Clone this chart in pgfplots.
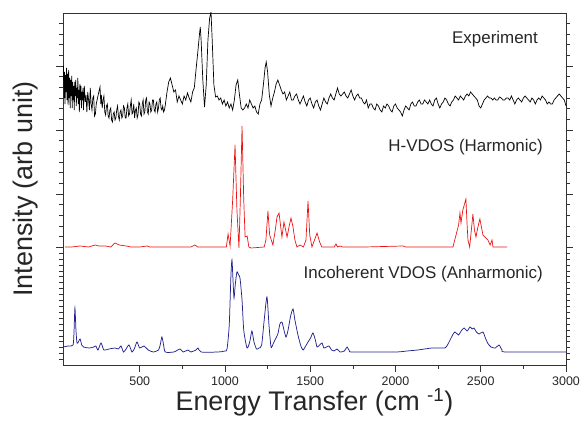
\documentclass[border=0pt]{standalone}
\usepackage{fontspec}
\setmainfont{Liberation Sans}
\usepackage{pgfplots}
\pgfplotsset{compat=1.18}
\definecolor{vblue}{RGB}{35,35,145}
\definecolor{vred}{RGB}{235,20,20}
\begin{document}
\begin{tikzpicture}
\begin{axis}[
  at={(63bp,69bp)}, anchor=south west,
  scale only axis, width=503bp, height=352bp,
  xmin=50, xmax=3000, ymin=-365, ymax=-13,
  axis line style={black!80, line width=0.8pt},
  xtick={500,1000,1500,2000,2500,3000}, minor x tick num=1,
  xtick pos=left, ytick pos=both,
  tick align=outside,
  major tick length=7bp, minor tick length=4bp,
  ytick={-66,-130,-194,-247.3},
  minor ytick={-23.3,-34,-44.7,-55.3,-76.7,-87.3,-98,-108.7,-119.3,-140.7,-151.3,-162,-172.7,-183.3,-204.7,-215.3,-226,-236.7,-253.2,-259.1,-265,-270.9,-276.8,-282.7,-288.6,-294.5,-300.4,-306.3,-312.2,-318.1,-324,-329.9,-335.8,-341.7,-347.6,-353.5,-359.4},
  yticklabels={},
  tick style={black!80, line width=0.6pt},
  /pgf/number format/assume math mode=true,
  /pgf/number format/1000 sep={},
  xticklabel style={font=\fontsize{12.5}{14}\selectfont, yshift=-1bp, text=black!85},
  xlabel={Energy Transfer (cm \textsuperscript{-1})},
  ylabel={Intensity (arb unit)},
  label style={font=\fontsize{27}{30}\selectfont, text=black!85},
  xlabel style={at={(axis description cs:0.5,-0.106)}, anchor=center},
  ylabel style={at={(axis description cs:-0.075,0.5)}, anchor=center},
  clip=true,
]
% Experiment
\addplot[black, line width=0.7pt] table {
50 -80
53 -66
56 -98
59 -72
62 -104
65 -75
68 -92
71 -68
74 -100
77 -74
80 -105
83 -70
86 -98
89 -78
92 -108
95 -80
98 -96
101 -76
104 -108
107 -82
110 -100
113 -86
116 -110
119 -82
122 -96
125 -80
128 -106
131 -88
134 -98
137 -78
140 -104
143 -90
146 -112
149 -84
152 -100
155 -86
158 -108
161 -92
164 -100
167 -88
170 -110
175 -86
180 -102
185 -95
190 -112
195 -92
200 -100
205 -110
210 -88
215 -104
220 -110
225 -98
230 -96
235 -116
240 -114
245 -104
250 -100
255 -96
260 -92
267 -87
272 -104
275 -95
280 -108
285 -100
290 -96
295 -112
300 -115
305 -106
310 -104
315 -116
320 -118
325 -110
330 -108
335 -120
340 -122
345 -114
350 -112
355 -120
360 -118
365 -110
370 -106
375 -116
380 -120
385 -112
390 -110
395 -118
400 -116
405 -106
410 -108
415 -118
420 -118
425 -108
430 -104
435 -116
440 -114
445 -106
450 -100
455 -114
460 -112
465 -104
470 -118
475 -110
480 -108
485 -118
490 -115
495 -102
500 -104
505 -114
510 -116
515 -104
520 -100
525 -114
530 -112
535 -100
540 -98
545 -112
550 -114
555 -102
560 -104
565 -112
570 -110
575 -100
580 -100
585 -110
590 -112
595 -104
600 -102
605 -112
610 -108
615 -100
620 -98
625 -108
630 -110
635 -106
640 -112
645 -110
650 -105
660 -92
670 -82
680 -78
690 -85
700 -92
710 -90
720 -102
730 -96
740 -100
750 -104
760 -96
770 -100
780 -93
790 -98
800 -102
810 -92
820 -88
830 -70
840 -53
850 -35
855 -27
860 -40
870 -80
880 -107
890 -85
900 -40
910 -18
918 -12
925 -40
935 -85
945 -97
955 -96
965 -100
975 -98
985 -104
995 -100
1005 -106
1015 -102
1025 -108
1035 -104
1045 -110
1055 -100
1065 -85
1075 -80
1085 -95
1095 -108
1105 -110
1115 -108
1125 -104
1135 -108
1145 -100
1155 -104
1165 -108
1175 -106
1185 -112
1195 -114
1205 -104
1215 -100
1225 -85
1235 -68
1242 -62
1250 -72
1260 -95
1270 -106
1280 -98
1290 -92
1300 -84
1310 -80
1320 -85
1330 -90
1340 -94
1350 -92
1360 -100
1370 -96
1380 -92
1390 -100
1400 -100
1410 -96
1420 -94
1430 -100
1440 -104
1450 -100
1460 -96
1470 -102
1480 -106
1490 -100
1500 -98
1510 -104
1520 -108
1530 -102
1540 -100
1550 -106
1560 -110
1570 -104
1580 -98
1590 -102
1600 -104
1610 -98
1620 -94
1630 -98
1640 -100
1650 -94
1660 -88
1670 -94
1680 -96
1690 -94
1700 -92
1710 -96
1720 -98
1730 -94
1740 -90
1750 -96
1760 -100
1770 -96
1780 -94
1790 -98
1800 -98
1810 -102
1820 -104
1830 -100
1840 -108
1850 -104
1860 -104
1870 -108
1880 -110
1890 -104
1900 -106
1910 -110
1920 -112
1930 -106
1940 -108
1950 -104
1960 -106
1970 -110
1980 -112
1990 -106
2000 -104
2010 -108
2020 -110
2030 -112
2040 -116
2050 -110
2060 -106
2070 -108
2080 -110
2090 -104
2100 -102
2110 -106
2120 -106
2130 -102
2140 -100
2150 -104
2160 -104
2170 -100
2180 -102
2190 -104
2200 -100
2210 -104
2220 -106
2230 -100
2240 -98
2250 -104
2260 -108
2270 -104
2280 -102
2290 -98
2300 -100
2310 -104
2320 -106
2330 -102
2340 -100
2350 -96
2360 -98
2370 -100
2380 -96
2390 -98
2400 -100
2410 -96
2420 -94
2430 -96
2440 -92
2450 -94
2460 -96
2470 -98
2480 -100
2490 -106
2500 -108
2510 -104
2520 -100
2530 -98
2540 -96
2550 -98
2560 -98
2570 -100
2580 -98
2590 -100
2600 -100
2610 -97
2620 -98
2630 -100
2640 -100
2650 -98
2660 -98
2670 -100
2680 -96
2690 -100
2700 -104
2710 -100
2720 -98
2730 -100
2740 -102
2750 -98
2760 -96
2770 -98
2780 -100
2790 -102
2800 -98
2810 -100
2820 -104
2830 -100
2840 -98
2850 -100
2860 -96
2870 -98
2880 -100
2890 -104
2900 -102
2910 -104
2920 -104
2930 -100
2940 -98
2950 -96
2960 -94
2970 -96
2980 -98
2990 -100
3000 -106
};
% H-VDOS (Harmonic)
\addplot[vred, line width=0.7pt] table {
62 -247
100 -247
150 -246
200 -247
238 -245
260 -246
300 -246
330 -247
355 -243
380 -245
420 -246
450 -247
500 -247
542 -246
560 -247
700 -247
800 -247
824 -245
840 -247
1008 -247
1018 -234
1030 -246
1045 -200
1059 -145
1070 -210
1082 -248
1090 -200
1100 -126
1110 -200
1118 -237
1130 -236
1140 -247
1153 -248
1230 -247
1240 -240
1252 -211
1262 -235
1281 -245
1295 -230
1305 -217
1317 -213
1334 -237
1346 -222
1364 -237
1378 -225
1387 -218
1399 -227
1410 -240
1422 -247
1440 -245
1460 -247
1475 -240
1487 -201
1497 -235
1510 -247
1525 -240
1540 -233
1555 -242
1568 -247
1640 -247
1651 -244
1660 -247
1675 -246
1690 -247
1821 -247
2044 -246
2060 -247
2337 -247
2355 -235
2370 -225
2378 -213
2384 -223
2395 -210
2413 -199
2420 -225
2425 -240
2435 -247
2445 -230
2454 -214
2463 -230
2472 -237
2482 -228
2495 -219
2505 -228
2513 -235
2530 -238
2542 -240
2555 -245
2566 -240
2572 -247
2654 -247
};
% Incoherent VDOS (Anharmonic)
\addplot[vblue, line width=0.75pt, smooth, tension=0.4] table {
50 -347
80 -346
109 -345
115 -330
120 -308
126 -330
132 -343
140 -342
150 -339
160 -345
170 -347
203 -348
230 -347
243 -346
255 -350
273 -343
290 -350
320 -349
355 -348
375 -349
390 -346
405 -352
420 -349
437 -345
455 -352
470 -348
484 -342
500 -348
525 -346
550 -350
580 -352
610 -350
620 -345
630 -337
640 -345
650 -352
700 -352
736 -349
755 -352
783 -350
800 -352
830 -350
842 -348
860 -352
960 -352
1000 -351
1012 -349
1025 -325
1035 -275
1041 -260
1047 -280
1053 -298
1060 -285
1070 -272
1080 -275
1088 -278
1100 -300
1110 -330
1129 -348
1145 -342
1158 -331
1170 -342
1185 -349
1200 -348
1215 -345
1230 -320
1246 -297
1258 -325
1270 -347
1282 -344
1293 -340
1310 -334
1322 -324
1334 -322
1346 -330
1358 -337
1370 -330
1385 -316
1399 -309
1410 -320
1428 -335
1445 -346
1458 -350
1470 -347
1487 -342
1502 -338
1516 -333
1530 -340
1540 -347
1555 -345
1569 -343
1580 -348
1595 -347
1610 -346
1625 -350
1640 -351
1657 -349
1675 -352
1700 -351
1716 -347
1730 -351
1750 -352
2000 -352
2067 -351
2130 -350
2170 -349
2214 -348
2260 -348
2290 -348
2305 -345
2320 -340
2335 -335
2349 -332
2370 -335
2385 -331
2402 -328
2420 -331
2437 -327
2450 -329
2460 -328
2475 -332
2490 -334
2513 -332
2525 -337
2540 -343
2560 -347
2585 -348
2607 -345
2625 -350
2650 -352
3000 -352
};
\node[anchor=east, font=\fontsize{17}{20}\selectfont, text=black!85, inner sep=0pt] at (axis cs:2836,-39.5) {Experiment};
\node[anchor=east, font=\fontsize{17}{20}\selectfont, text=black!85, inner sep=0pt] at (axis cs:2865,-147.5) {H-VDOS (Harmonic)};
\node[anchor=east, font=\fontsize{17}{20}\selectfont, text=black!85, inner sep=0pt] at (axis cs:2865,-274.5) {Incoherent VDOS (Anharmonic)};
\end{axis}
\pgfresetboundingbox
\useasboundingbox (0,0) rectangle (580bp,434bp);
\end{tikzpicture}
\end{document}
